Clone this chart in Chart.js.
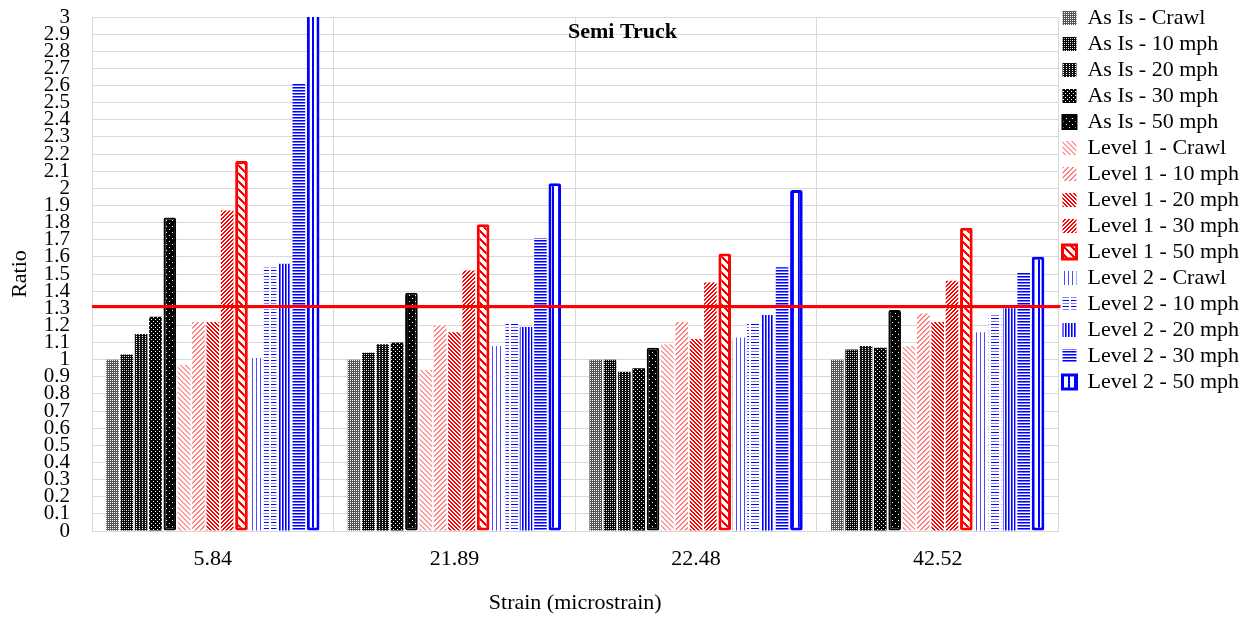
<!DOCTYPE html>
<html>
<head>
<meta charset="utf-8">
<script src="https://cdn.jsdelivr.net/npm/chart.js@4.4.1/dist/chart.umd.min.js"></script>
<style>
  html, body { margin: 0; padding: 0; background: #fff; }
  #wrap { width: 1249px; height: 618px; }
</style>
</head>
<body>
<div id="wrap"><canvas id="chart" width="1249" height="618"></canvas></div>
<script>
// strain levels (x categories)
const categories = ['5.84', '21.89', '22.48', '42.52'];

// ratio values, one array per series
const asIsCrawl  = [1.00, 1.00, 1.00, 1.00];
const asIs10     = [1.03, 1.04, 1.00, 1.06];
const asIs20     = [1.15, 1.09, 0.93, 1.08];
const asIs30     = [1.25, 1.10, 0.95, 1.07];
const asIs50     = [1.83, 1.39, 1.07, 1.29];
const level1Crawl = [0.97, 0.94, 1.09, 1.08];
const level1_10   = [1.22, 1.20, 1.22, 1.27];
const level1_20   = [1.22, 1.16, 1.12, 1.22];
const level1_30   = [1.87, 1.52, 1.45, 1.46];
const level1_50   = [2.16, 1.79, 1.62, 1.77];
const level2Crawl = [1.01, 1.08, 1.13, 1.16];
const level2_10   = [1.54, 1.22, 1.22, 1.27];
const level2_20   = [1.56, 1.19, 1.26, 1.30];
const level2_30   = [2.61, 1.71, 1.54, 1.51];
const level2_50   = [3.10, 2.03, 1.99, 1.60];

const seriesNames = [
  'As Is - Crawl', 'As Is - 10 mph', 'As Is - 20 mph', 'As Is - 30 mph', 'As Is - 50 mph',
  'Level 1 - Crawl', 'Level 1 - 10 mph', 'Level 1 - 20 mph', 'Level 1 - 30 mph', 'Level 1 - 50 mph',
  'Level 2 - Crawl', 'Level 2 - 10 mph', 'Level 2 - 20 mph', 'Level 2 - 30 mph', 'Level 2 - 50 mph'
];
const seriesValues = [
  asIsCrawl, asIs10, asIs20, asIs30, asIs50,
  level1Crawl, level1_10, level1_20, level1_30, level1_50,
  level2Crawl, level2_10, level2_20, level2_30, level2_50
];

// horizontal reference ratio (red line)
const threshold = 1.31;

Chart.defaults.font.family = "'Liberation Serif', 'Times New Roman', serif";
Chart.defaults.color = '#000';

const ctx = document.getElementById('chart').getContext('2d');

// small pixel tiles used as bar fills
function makePattern(w, h, bg, paint) {
  const c = document.createElement('canvas');
  c.width = w; c.height = h;
  const g = c.getContext('2d');
  g.fillStyle = bg;
  g.fillRect(0, 0, w, h);
  paint(g);
  return ctx.createPattern(c, 'repeat');
}
function px(g, color, pts) {
  g.fillStyle = color;
  pts.forEach(p => g.fillRect(p[0], p[1], p[2] || 1, p[3] || 1));
}
function diag(size, thick, color, up) {
  return makePattern(size, size, '#fff', g => {
    g.fillStyle = color;
    for (let i = 0; i < size; i++) {
      for (let k = 0; k < thick; k++) {
        const x = up ? (size - 1 - i + k) % size : (i + k) % size;
        g.fillRect(x, i, 1, 1);
      }
    }
  });
}

const fills = [
  makePattern(2, 2, '#555', g => px(g, '#fff', [[0, 0]])),
  makePattern(4, 4, '#000', g => { px(g, '#fff', [[0, 0], [2, 2]]); px(g, '#aaa', [[2, 0], [0, 2]]); }),
  makePattern(3, 2, '#111', g => px(g, '#fff', [[1, 0]])),
  makePattern(4, 4, '#000', g => px(g, '#fff', [[1, 1], [3, 3]])),
  makePattern(6, 6, '#000', g => px(g, '#fff', [[1, 1], [4, 4]])),
  diag(5, 2, '#ff9a9a', false),
  diag(5, 2, '#ff8080', true),
  diag(4, 2, '#ff0000', false),
  diag(4, 2, '#ff0000', true),
  diag(8, 3, '#ff0000', false),
  makePattern(4, 1, '#fff', g => px(g, '#4d4dff', [[0, 0]])),
  makePattern(10, 6, '#fff', g => { px(g, '#0000ff', [[1, 0, 8, 1]]); px(g, '#8080ff', [[1, 3, 8, 1]]); }),
  makePattern(3, 1, '#fff', g => { px(g, '#0000ff', [[0, 0]]); px(g, '#6666ff', [[1, 0]]); }),
  makePattern(1, 3, '#fff', g => { px(g, '#0000ff', [[0, 0]]); px(g, '#7777ff', [[0, 1]]); }),
  makePattern(6, 1, '#fff', g => px(g, '#0000ff', [[0, 0, 2, 1]]))
];
const borderColors = [null, null, null, null, '#000', null, null, null, null, '#ff0000', null, null, null, null, '#0000ff'];
const borderWidths = [0, 0, 0, 0, 2, 0, 0, 0, 0, 3, 0, 0, 0, 0, 3];

const datasets = seriesNames.map((name, i) => ({
  label: name,
  data: seriesValues[i],
  backgroundColor: fills[i],
  borderColor: borderColors[i] || 'rgba(0,0,0,0)',
  borderWidth: borderWidths[i],
  borderRadius: borderWidths[i] ? 2 : 0,
  borderSkipped: false,
  categoryPercentage: 0.89,
  barPercentage: 0.88
}));

const refLinePlugin = {
  id: 'refLine',
  afterDatasetsDraw(chart) {
    const { ctx, chartArea, scales } = chart;
    const y = scales.y.getPixelForValue(threshold);
    ctx.save();
    ctx.strokeStyle = '#ff0000';
    ctx.lineWidth = 3;
    ctx.beginPath();
    ctx.moveTo(chartArea.left, y);
    ctx.lineTo(chartArea.right + 2, y);
    ctx.stroke();
    ctx.restore();
  }
};

const innerTitlePlugin = {
  id: 'innerTitle',
  afterDraw(chart) {
    const { ctx } = chart;
    ctx.save();
    ctx.font = "bold 22px 'Liberation Serif', 'Times New Roman', serif";
    ctx.fillStyle = '#000';
    ctx.textAlign = 'center';
    ctx.textBaseline = 'middle';
    ctx.fillText('Semi Truck', chart.width / 2 - 2, 32);
    ctx.restore();
  }
};

new Chart(ctx, {
  type: 'bar',
  data: { labels: categories, datasets },
  plugins: [refLinePlugin, innerTitlePlugin],
  options: {
    responsive: false,
    animation: false,
    layout: { padding: { top: 3, left: 0, right: 0, bottom: 0 } },
    scales: {
      x: {
        grid: { color: '#d9d9d9', drawTicks: false, offset: true },
        border: { color: '#d9d9d9' },
        ticks: { font: { size: 22 }, padding: 15, color: '#000' },
        title: { display: true, text: 'Strain (microstrain)', font: { size: 22 }, padding: { top: 4, bottom: 2 }, color: '#000' },
        afterFit(s) { s.height = 87; }
      },
      y: {
        min: 0,
        max: 3,
        grid: { color: '#d9d9d9', drawTicks: false },
        border: { color: '#d9d9d9' },
        ticks: {
          stepSize: 0.1,
          autoSkip: false,
          padding: 22,
          color: '#000',
          font: { size: 21 },
          callback: v => String(Number(v.toFixed(1)))
        },
        title: { display: true, text: 'Ratio', font: { size: 22 }, padding: { top: 7, bottom: 4 }, color: '#000' },
        afterFit(s) { s.width = 92; s.paddingTop = 17; }
      }
    },
    plugins: {
      legend: {
        position: 'right',
        align: 'start',
        labels: {
          boxWidth: 14,
          boxHeight: 14,
          padding: 4,
          color: '#000',
          font: { size: 22 }
        }
      },
      tooltip: { enabled: false }
    }
  }
});
</script>
</body>
</html>
